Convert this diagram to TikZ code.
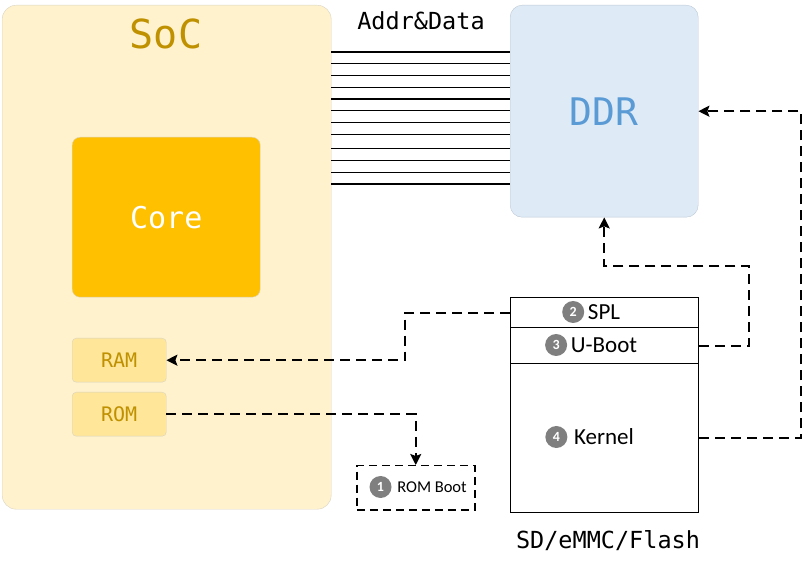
\documentclass[tikz,border=0pt]{standalone}
\usepackage{fontspec}
\setmainfont{Carlito}
\newfontfamily\codefont{DejaVu Sans Mono}
\usetikzlibrary{positioning,arrows.meta}
\definecolor{socfill}{HTML}{FFF2CC}
\definecolor{socline}{HTML}{D9D4C4}
\definecolor{socgold}{HTML}{BF9000}
\definecolor{corefill}{HTML}{FFC000}
\definecolor{memfill}{HTML}{FFE699}
\definecolor{ddrfill}{HTML}{DEEBF7}
\definecolor{ddrline}{HTML}{BCC8D4}
\definecolor{ddrblue}{HTML}{5B9BD5}
\definecolor{badgegray}{HTML}{7F7F7F}

\begin{document}
\begin{tikzpicture}[x=1pt,y=-1pt]
      \tikzstyle{block} = [anchor=north west,inner sep=0pt,rounded corners=8pt]
      \tikzstyle{part} = [anchor=north west,inner sep=0pt,draw=black,line width=1.3pt,minimum width=188pt]
      \tikzstyle{badge} = [circle,fill=badgegray,text=white,inner sep=0pt,minimum size=22pt,font=\fontsize{14}{14}\selectfont\bfseries]
      \tikzstyle{dedge} = [line width=1.8pt,dash pattern=on 10pt off 6pt,-{Stealth[length=11pt,width=11pt,inset=2pt]}]
      \useasboundingbox (0,0) rectangle (804,569);

      % chip and memory
      \node[block,draw=socline,fill=socfill,minimum width=329pt,minimum height=504pt,rounded corners=14pt] (soc) at (2,5) {};
      \node[text=socgold,font=\codefont\fontsize{40}{40}\selectfont] (soctitle) at (166,34) {SoC};
      \node[block,draw=socline,fill=corefill,minimum width=188pt,minimum height=160pt] (core) at (72,137) {\textcolor{white}{\codefont\fontsize{30}{30}\selectfont Core}};
      \node[block,draw=socline,fill=memfill,minimum width=94pt,minimum height=44pt,rounded corners=4pt,text=socgold,font=\codefont\fontsize{20}{20}\selectfont] (ram) at (72,338) {RAM};
      \node[block,draw=socline,fill=memfill,minimum width=94pt,minimum height=44pt,rounded corners=4pt,text=socgold,font=\codefont\fontsize{20}{20}\selectfont] (rom) at (72,392) {ROM};
      \node[block,draw=ddrline,fill=ddrfill,minimum width=188pt,minimum height=212pt,rounded corners=12pt,text=ddrblue,font=\codefont\fontsize{38}{38}\selectfont] (ddr) at (510,5) {DDR};

      % bus
      \node[font=\codefont\fontsize{23.5}{24}\selectfont] (bus) at (421,21) {Addr\&Data};
      \foreach \y in {52,63.5,75.5,87.3,99,110.7,122.7,134.3,148.7,160.3,172.3,184}
        \draw[line width=1.2pt] (soc.east |- 0,\y) -- (ddr.west |- 0,\y);

      % storage
      \node[part,minimum height=30pt] (spl) at (510,297) {};
      \node[part,minimum height=36pt] (uboot) at (510,327) {};
      \node[part,minimum height=149pt] (kernel) at (510,363) {};
      \node[font=\fontsize{23}{23}\selectfont] (spltxt) at (604,312) {SPL};
      \node[badge,left=0pt of spltxt] (n2) {2};
      \node[font=\fontsize{23}{23}\selectfont] (ubtxt) at (604,345) {U-Boot};
      \node[badge,left=0pt of ubtxt] (n3) {3};
      \node[font=\fontsize{23}{23}\selectfont] (kntxt) at (604,437) {Kernel};
      \node[badge,left=3pt of kntxt] (n4) {4};
      \node[font=\codefont\fontsize{23.5}{24}\selectfont] (media) at (608,541) {SD/eMMC/Flash};

      \node[anchor=north west,draw=black,line width=1.5pt,dash pattern=on 8pt off 5pt,minimum width=118pt,minimum height=44pt] (rboot) at (356,465) {};
      \node[font=\fontsize{16.5}{17}\selectfont] (rbtxt) at (432,487) {ROM Boot};
      \node[badge,left=2pt of rbtxt] (n1) {1};

      % boot flow
      \draw[dedge] (rom.east) -| (rboot.north);
      \draw[dedge] (spl.west) -- ++(-105,0) |- (ram.east);
      \draw[dedge] (uboot.east) -- ++(50,0) -- ++(0,-80) -| (ddr.south);
      \draw[dedge] (kernel.east) -- ++(102,0) |- (ddr.east);
\end{tikzpicture}
\end{document}
